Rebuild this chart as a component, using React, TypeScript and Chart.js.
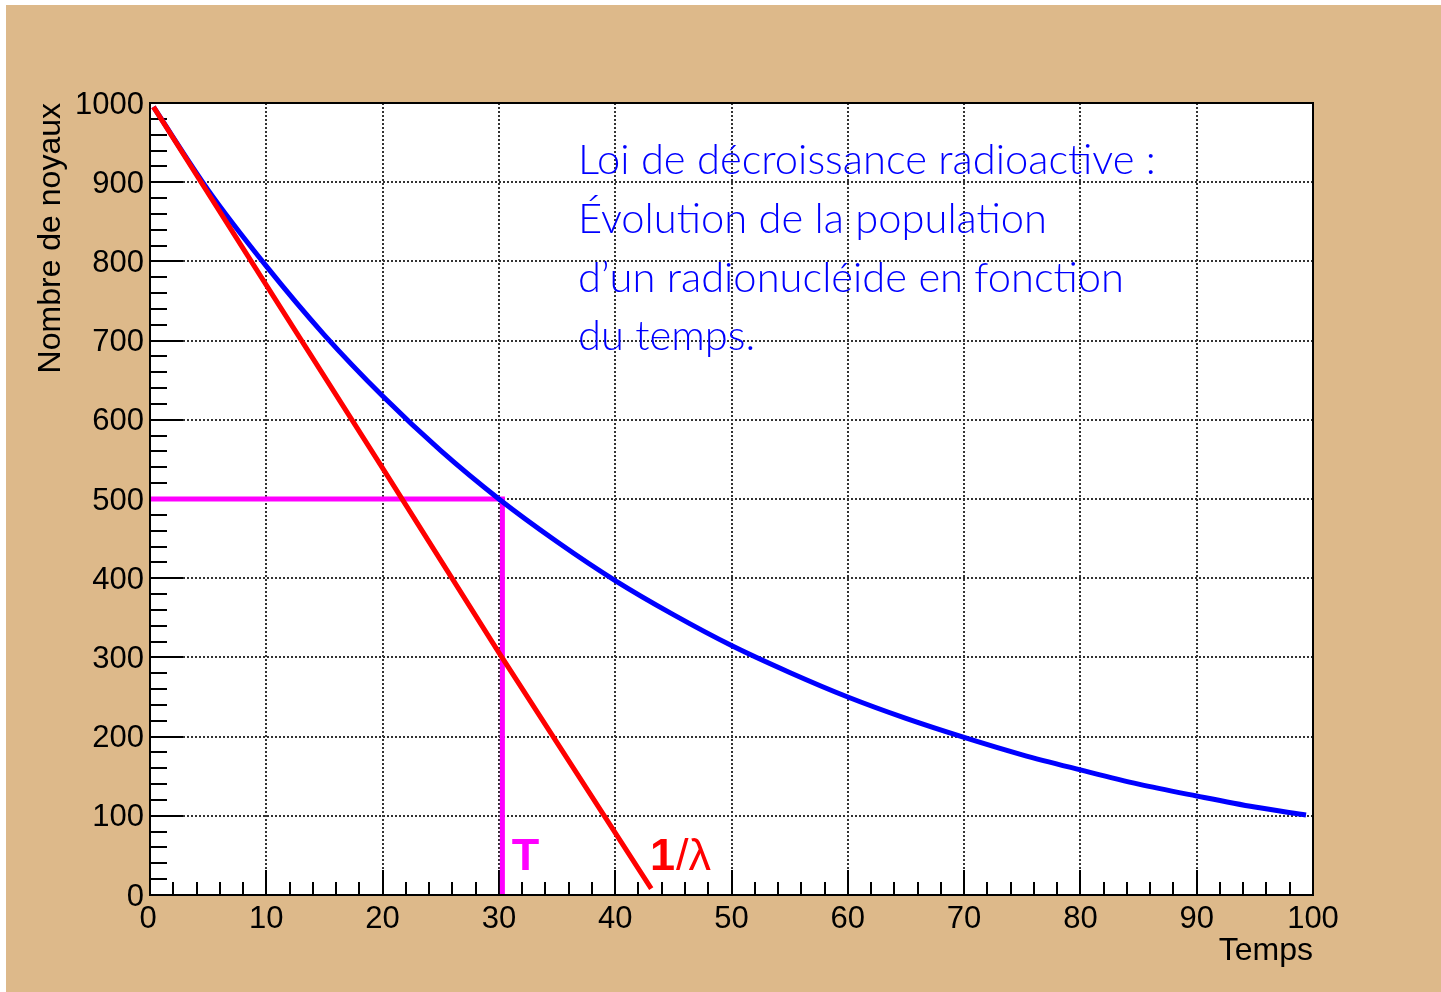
import React, { useEffect, useRef } from 'react';
import { Chart, registerables } from 'chart.js';

Chart.register(...registerables);

// ---- data ----
const blueTimes = [0.3, 5, 10, 15, 20, 25, 30, 35, 40, 45, 50, 55, 60, 65, 70, 75, 80, 85, 90, 95, 99.4];
const blueCounts = [995, 890, 794, 707, 630, 561, 500, 446, 397, 354, 315, 281, 250, 223, 199, 177, 158, 140, 125, 111, 101];

const redTimes = [0.3, 10, 20, 30, 43.1];
const redCounts = [995, 770, 539, 306, 8];

const halfLifeTimes = [0, 30.3, 30.3];
const halfLifeCounts = [500, 500, 0];

const xMajorTicks = [0, 10, 20, 30, 40, 50, 60, 70, 80, 90, 100];
const xTickLabels = ['0', '10', '20', '30', '40', '50', '60', '70', '80', '90', '100'];
const yMajorTicks = [0, 100, 200, 300, 400, 500, 600, 700, 800, 900, 1000];
const yTickLabels = ['0', '100', '200', '300', '400', '500', '600', '700', '800', '900', '1000'];
const xMinorStep = 2;
const yMinorStep = 20;

const xTitle = 'Temps';
const yTitle = 'Nombre de noyaux';

const noteLines = [
  'Loi de décroissance radioactive :',
  'Évolution de la population',
  'd\u2019un radionucléide en fonction',
  'du temps.',
];
const noteX = 36.8;
const noteBaselines = [910, 836, 761, 688];

const halfLabel = 'T';
const halfLabelX = 31.1;
const tauLabelBold = '1';
const tauLabelRest = '/\u03bb';
const tauLabelX = 43.0;
const labelBaseline = 31.5;

const TAN = '#DDB98A';

export default function App() {
  const ref = useRef<HTMLCanvasElement>(null);

  useEffect(() => {
    const canvas = ref.current!;
    const pts = (xs: number[], ys: number[]) => xs.map((x, i) => ({ x, y: ys[i] }));

    const plugin = {
      id: 'rootStyle',
      beforeDraw(chart: any) {
        const { ctx, width, height, chartArea: a } = chart;
        const xs = chart.scales.x;
        const ys = chart.scales.y;
        ctx.save();
        ctx.fillStyle = '#ffffff';
        ctx.fillRect(0, 0, width, height);
        ctx.fillStyle = TAN;
        ctx.fillRect(6, 5, width - 6, height - 5);
        ctx.fillStyle = '#ffffff';
        ctx.fillRect(a.left, a.top, a.right - a.left, a.bottom - a.top);

        // dotted grid
        ctx.strokeStyle = '#333333';
        ctx.lineWidth = 2;
        ctx.setLineDash([2, 2]);
        xMajorTicks.forEach((v) => {
          if (v === xMajorTicks[0] || v === xMajorTicks[xMajorTicks.length - 1]) return;
          const px = Math.round(xs.getPixelForValue(v));
          ctx.beginPath();
          ctx.moveTo(px, a.top);
          ctx.lineTo(px, a.bottom - 25);
          ctx.stroke();
        });
        yMajorTicks.forEach((v) => {
          if (v === yMajorTicks[0] || v === yMajorTicks[yMajorTicks.length - 1]) return;
          const py = Math.round(ys.getPixelForValue(v));
          ctx.beginPath();
          ctx.moveTo(a.left + 33, py);
          ctx.lineTo(a.right, py);
          ctx.stroke();
        });
        ctx.setLineDash([]);

        // ticks
        ctx.strokeStyle = '#000000';
        ctx.lineWidth = 2;
        for (let v = xs.min; v <= xs.max + 1e-9; v += xMinorStep) {
          const major = xMajorTicks.includes(Math.round(v));
          const px = Math.round(xs.getPixelForValue(v));
          ctx.beginPath();
          ctx.moveTo(px, a.bottom);
          ctx.lineTo(px, a.bottom - (major ? 25 : 13));
          ctx.stroke();
        }
        for (let v = ys.min; v <= ys.max + 1e-9; v += yMinorStep) {
          const major = yMajorTicks.includes(Math.round(v));
          const py = Math.round(ys.getPixelForValue(v));
          ctx.beginPath();
          ctx.moveTo(a.left, py);
          ctx.lineTo(a.left + (major ? 33 : 17), py);
          ctx.stroke();
        }
        ctx.restore();
      },
      afterDatasetsDraw(chart: any) {
        const { ctx, chartArea: a } = chart;
        const xs = chart.scales.x;
        const ys = chart.scales.y;
        ctx.save();
        // frame
        ctx.strokeStyle = '#000000';
        ctx.lineWidth = 2;
        ctx.strokeRect(a.left, a.top, a.right - a.left, a.bottom - a.top);

        // tick labels
        ctx.fillStyle = '#000000';
        ctx.font = '31px "Liberation Sans", Arial, sans-serif';
        ctx.textAlign = 'right';
        ctx.textBaseline = 'middle';
        yMajorTicks.forEach((v, i) => {
          ctx.fillText(yTickLabels[i], a.left - 6, ys.getPixelForValue(v) + 2);
        });
        ctx.textAlign = 'center';
        xMajorTicks.forEach((v, i) => {
          ctx.fillText(xTickLabels[i], xs.getPixelForValue(v) - (i === 0 ? 2 : 0), a.bottom + 24);
        });

        // axis titles
        ctx.font = '32px "Liberation Sans", Arial, sans-serif';
        ctx.textAlign = 'right';
        ctx.textBaseline = 'alphabetic';
        ctx.fillText(xTitle, a.right, a.bottom + 65);
        ctx.save();
        ctx.translate(60, a.top);
        ctx.rotate(-Math.PI / 2);
        ctx.textAlign = 'right';
        ctx.fillText(yTitle, 0, 0);
        ctx.restore();

        // T and 1/lambda labels
        ctx.textAlign = 'left';
        ctx.font = 'bold 45px "Liberation Sans", Arial, sans-serif';
        ctx.fillStyle = '#FF00FF';
        ctx.fillText(halfLabel, xs.getPixelForValue(halfLabelX), ys.getPixelForValue(labelBaseline));
        ctx.fillStyle = '#FF0000';
        const tx = xs.getPixelForValue(tauLabelX);
        const ty = ys.getPixelForValue(labelBaseline);
        ctx.fillText(tauLabelBold, tx, ty);
        const w1 = ctx.measureText(tauLabelBold).width;
        ctx.font = '45px "Liberation Sans", Arial, sans-serif';
        ctx.fillText(tauLabelRest, tx + w1 + 1, ty);

        // note text
        ctx.fillStyle = '#0000FF';
        const family = '"Lato", "Open Sans", sans-serif';
        ctx.font = `300 40px ${family}`;
        const w = ctx.measureText(noteLines[0]).width;
        const size = 40 * 578 / w;
        ctx.font = `300 ${size.toFixed(1)}px ${family}`;
        noteLines.forEach((line, i) => {
          ctx.fillText(line, xs.getPixelForValue(noteX), ys.getPixelForValue(noteBaselines[i]));
        });
        ctx.restore();
      },
    };

    const chart = new Chart(canvas, {
      type: 'scatter',
      data: {
        datasets: [
          {
            data: pts(redTimes, redCounts),
            showLine: true,
            borderColor: '#FF0000',
            borderWidth: 5,
            pointRadius: 0,
            order: 0,
          },
          {
            data: pts(blueTimes, blueCounts),
            showLine: true,
            borderColor: '#0000FF',
            borderWidth: 5,
            pointRadius: 0,
            cubicInterpolationMode: 'monotone',
            order: 1,
          },
          {
            data: pts(halfLifeTimes, halfLifeCounts),
            showLine: true,
            borderColor: '#FF00FF',
            borderWidth: 5,
            pointRadius: 0,
            order: 2,
          },
        ],
      } as any,
      options: {
        responsive: false,
        animation: false,
        events: [],
        layout: { padding: { left: 150, top: 103, right: 128, bottom: 97 } },
        scales: {
          x: { type: 'linear', min: 0, max: 100, display: false },
          y: { type: 'linear', min: 0, max: 1000, display: false },
        },
        plugins: { legend: { display: false }, tooltip: { enabled: false } },
      },
      plugins: [plugin],
    });
    return () => chart.destroy();
  }, []);

  return (
    <div style={{ position: 'absolute', left: 0, top: 0, width: 1441, height: 992, background: '#fff' }}>
      <canvas ref={ref} width={1441} height={992} style={{ display: 'block', width: 1441, height: 992 }} />
    </div>
  );
}
